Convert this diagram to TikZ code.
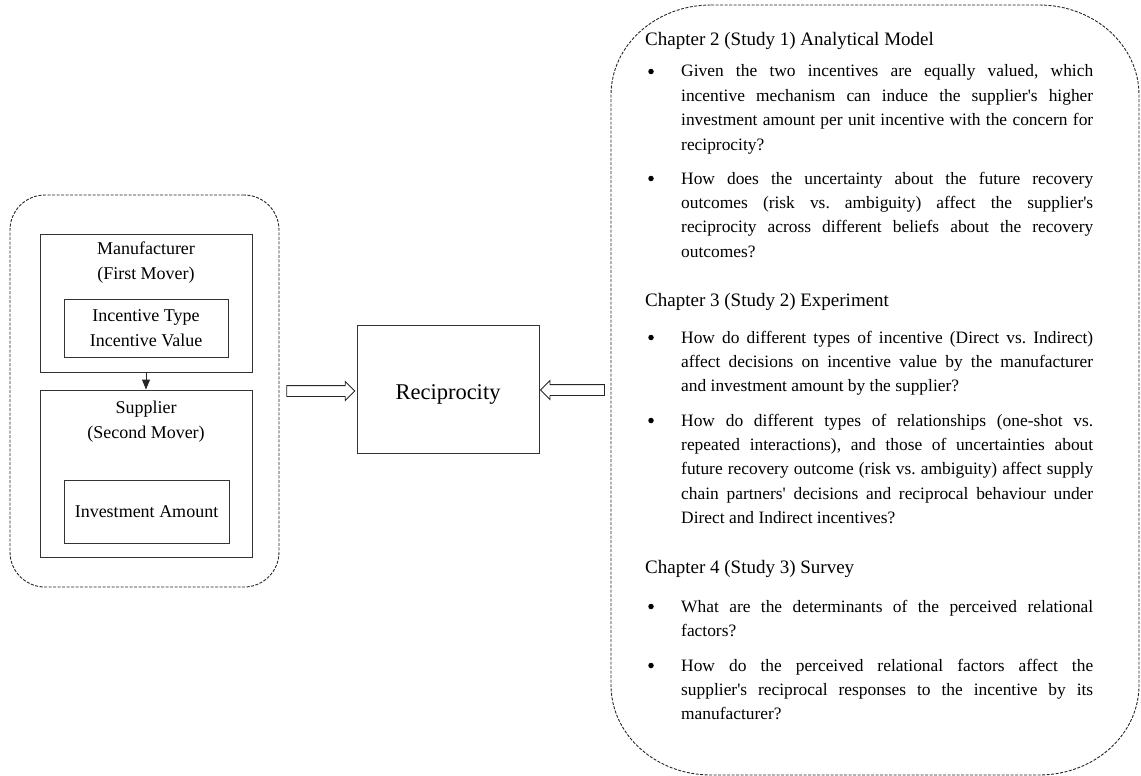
\documentclass[tikz,border=0pt]{standalone}
\usepackage{fontspec}
\setmainfont{Liberation Serif}[Ligatures=TeXOff]
\usetikzlibrary{positioning,shapes.arrows,arrows.meta,calc}
\hyphenpenalty=10000
\exhyphenpenalty=10000
\frenchspacing

\begin{document}
\begin{tikzpicture}[x=1pt,y=-1pt,
    box/.style={draw=black!80, line width=1pt, inner sep=0pt},
    boxtext/.style={align=center, inner sep=0pt, font=\fontsize{18}{25}\selectfont},
    group/.style={draw=black!85, line width=0.9pt, dash pattern=on 3pt off 1.5pt},
    hollow/.style={single arrow, draw=black!85, line width=0.9pt, inner xsep=0pt, inner ysep=5pt, single arrow head extend=4pt, single arrow tip angle=90},
    chap/.style={anchor=base west, inner sep=0pt, font=\fontsize{19}{24}\selectfont},
    quest/.style={anchor=base west, inner sep=0pt, text width=412pt, align=justify, font=\fontsize{17.4}{24.4}\selectfont},
    dot/.style={circle, fill=black, inner sep=0pt, minimum size=5.5pt}]
    \useasboundingbox (0,0) rectangle (1141,776);

     % Gruppo di sinistra
    \node[group, rounded corners=35pt, minimum width=269pt, minimum height=392pt] (leftgrp) at (144.5,391) {};
    \node[box, minimum width=212pt, minimum height=138pt] (manuf) at (146,303) {};
    \node[boxtext] (manuftitle) at (146,263) {Manufacturer\\(First Mover)};
    \node[box, boxtext, minimum width=164pt, minimum height=58pt] (inctype) at (146,328.5) {Incentive Type\\Incentive Value};
    \node[box, minimum width=212pt, minimum height=167pt] (supp) at (146,473.5) {};
    \node[boxtext] (supptitle) at (146,422) {Supplier\\(Second Mover)};
    \node[box, boxtext, minimum width=165pt, minimum height=63pt] (invest) at (146.5,511.5) {Investment Amount};
    \draw[-{Triangle[length=10pt,width=8pt]}, black!85, line width=1pt] (manuf) -- (supp);

     % Nodo centrale
    \node[box, minimum width=182pt, minimum height=128pt, font=\fontsize{22.5}{26}\selectfont] (recip) at (448,389) {\raisebox{-10.5pt}[0pt][0pt]{Reciprocity}};

     % Gruppo di destra
    \draw[group] (711,5) -- (1039,5) arc[start angle=-90, end angle=0, x radius=100, y radius=90]
        -- (1139,685) arc[start angle=0, end angle=90, x radius=100, y radius=90]
        -- (711,775) arc[start angle=90, end angle=180, x radius=100, y radius=90]
        -- (611,95) arc[start angle=180, end angle=270, x radius=100, y radius=90] -- cycle;
    \coordinate (rightgrp) at (611,389);

     % Frecce vuote
    \node[hollow, minimum height=68pt] (arrowl) at ($(leftgrp.east)!0.5!(recip.west)+(0,1)$) {};
    \node[hollow, minimum height=64pt, shape border rotate=180] (arrowr) at ($(recip.east)!0.5!(rightgrp)+(0,1)$) {};

     % Testi dei capitoli
    \node[chap] (ch2) at (645,46) {Chapter 2 (Study 1) Analytical Model};
    \node[quest] (q21) at (681,77) {Given the two incentives are equally valued, which\linebreak incentive mechanism can induce the supplier's higher\linebreak investment amount per unit incentive with the concern for\linebreak reciprocity?};
    \node[quest] (q22) at (681,184) {How does the uncertainty about the future recovery\linebreak outcomes (risk vs. ambiguity) affect the supplier's\linebreak reciprocity across different beliefs about the recovery\linebreak outcomes?};

    \node[chap] (ch3) at (645,306) {Chapter 3 (Study 2) Experiment};
    \node[quest] (q31) at (681,343) {How do different types of incentive (Direct vs. Indirect)\linebreak affect decisions on incentive value by the manufacturer\linebreak and investment amount by the supplier?};
    \node[quest] (q32) at (681,426) {How do different types of relationships (one-shot vs.\linebreak repeated interactions), and those of uncertainties about\linebreak future recovery outcome (risk vs. ambiguity) affect supply\linebreak chain partners' decisions and reciprocal behaviour under\linebreak Direct and Indirect incentives?};

    \node[chap] (ch4) at (645,573) {Chapter 4 (Study 3) Survey};
    \node[quest] (q41) at (681,612) {What are the determinants of the perceived relational\linebreak factors?};
    \node[quest] (q42) at (681,671) {How do the perceived relational factors affect the\linebreak supplier's reciprocal responses to the incentive by its\linebreak manufacturer?};

     % Punti elenco
    \foreach \q in {q21,q22,q31,q32,q41,q42}
        \node[dot] at ($(\q.base west)+(-30,-5.5)$) {};
\end{tikzpicture}
\end{document}
